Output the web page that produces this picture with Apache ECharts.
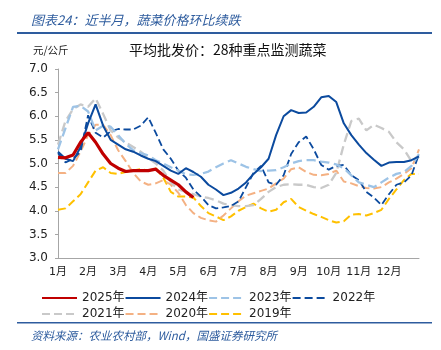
<!DOCTYPE html>
<html><head><meta charset="utf-8">
<script src="https://cdn.jsdelivr.net/npm/echarts@6/dist/echarts.min.js"></script>
<style>html,body{margin:0;padding:0;background:#fff}#c{width:441px;height:350px}</style>
</head><body><div id="c"></div>
<script>
// quarter-month sampling (index 0..48), 4 points per month
var months = ['1月','2月','3月','4月','5月','6月','7月','8月','9月','10月','11月','12月'];
var yTicks = [3.0,3.5,4.0,4.5,5.0,5.5,6.0,6.5,7.0];
var names = ['2025年','2024年','2023年','2022年','2021年','2020年','2019年'];

var s2025 = [5.13,5.12,5.18,5.45,5.65,5.45,5.2,5.0,4.9,4.83,4.85,4.85,4.85,4.88,4.75,4.65,4.55,4.4,4.28];
var s2024 = [5.25,5.1,5.05,5.35,5.85,6.25,5.8,5.5,5.4,5.3,5.25,5.17,5.1,5.05,4.95,4.85,4.78,4.9,4.82,4.72,4.55,4.45,4.33,4.38,4.47,4.6,4.78,4.92,5.1,5.6,6.0,6.13,6.07,6.08,6.2,6.4,6.43,6.3,5.85,5.6,5.4,5.22,5.08,4.95,5.02,5.03,5.03,5.07,5.15];
var s2023 = [5.3,5.75,6.2,6.22,6.1,5.7,5.8,5.78,5.6,5.42,5.28,5.22,5.17,5.07,5.0,4.92,4.85,4.77,4.76,4.78,4.83,4.92,5.0,5.07,5.0,4.93,4.88,4.84,4.85,4.86,4.92,5.0,5.05,5.07,5.07,5.04,5.02,4.98,4.9,4.75,4.6,4.55,4.5,4.6,4.7,4.78,4.82,4.95,5.2];
var s2022 = [5.22,5.02,5.1,5.25,6.02,5.65,5.55,5.68,5.73,5.72,5.72,5.8,5.98,5.65,5.3,5.1,4.85,4.7,4.45,4.3,4.12,4.05,4.07,4.1,4.2,4.5,4.8,4.95,4.6,4.55,4.75,5.2,5.45,5.57,5.3,4.97,4.87,4.95,4.97,4.75,4.65,4.4,4.28,4.12,4.35,4.55,4.6,4.75,5.2];
var s2021 = [5.4,5.9,6.15,6.25,6.2,6.38,6.05,5.7,5.55,5.45,5.35,5.25,5.12,5.0,4.85,4.6,4.45,4.4,4.35,4.3,4.27,4.22,4.15,4.12,4.1,4.1,4.12,4.25,4.4,4.5,4.55,4.56,4.55,4.55,4.5,4.48,4.55,4.8,5.4,5.9,5.95,5.7,5.82,5.75,5.67,5.45,5.3,5.05,5.15];
var s2020 = [4.8,4.8,4.95,5.25,5.6,5.82,5.82,5.6,5.28,5.05,4.8,4.62,4.55,4.58,4.65,4.55,4.38,4.12,3.95,3.85,3.8,3.77,3.9,4.05,4.2,4.32,4.37,4.42,4.47,4.58,4.68,4.88,4.92,4.82,4.76,4.75,4.78,4.85,4.62,4.58,4.52,4.48,4.47,4.5,4.6,4.68,4.78,4.9,5.3];
var s2019 = [4.02,4.05,4.2,4.35,4.6,4.85,4.92,4.8,4.78,4.82,4.85,4.88,4.85,4.9,4.7,4.4,4.3,4.3,4.28,4.1,3.95,3.88,3.8,3.88,4.0,4.08,4.15,4.05,3.98,4.02,4.18,4.25,4.08,4.0,3.93,3.87,3.8,3.75,3.78,3.92,3.93,3.9,3.95,4.02,4.25,4.45,4.65,4.78,4.78];

var allData = [s2025,s2024,s2023,s2022,s2021,s2020,s2019];
var colors = ['#c00000','#0b4a9e','#9dc3e6','#0b4a9e','#c9c9c9','#f4b183','#ffc000'];
var widths = [3.2,2,2.3,1.8,2.3,2,2];
var dashed = [false,false,true,true,true,true,true];

function toPairs(a){ return a.map(function(v,i){ return [i,v]; }); }

var series = [];
for (var k = allData.length-1; k >= 0; k--) {
  series.push({
    name: names[k], type: 'line', data: toPairs(allData[k]),
    showSymbol: false, symbol: 'none', smooth: false, z: 10-k,
    lineStyle: {color: colors[k], width: widths[k], type: dashed[k] ? 'dashed' : 'solid'},
    itemStyle: {color: colors[k]}
  });
}

var font = 'DejaVu Sans, Noto Sans CJK SC, sans-serif';
var cjk = 'Noto Sans CJK SC, sans-serif';
var chart = echarts.init(document.getElementById('c'), null, {renderer:'canvas'});
function legendCfg(list, top){
  return {
    data: list, top: top, left: 36, itemWidth: 35, itemHeight: 12, itemGap: 0,
    itemStyle: {opacity: 0},
    textStyle: {fontFamily: font, fontSize: 12, color: '#222', width: 59, padding: [0,0,0,0]},
    selectedMode: false
  };
}
chart.setOption({
  animation: false,
  title: [
    {text: '图表24：近半月，蔬菜价格环比续跌', left: 26, top: 9, textStyle: {fontFamily: cjk, fontSize: 13, fontStyle: 'italic', fontWeight: 'normal', color: '#2e5c9e'}},
    {text: '元/公斤', left: 28, top: 40, textStyle: {fontFamily: cjk, fontSize: 10.5, fontWeight: 'normal', color: '#222'}},
    {text: '平均批发价：28种重点监测蔬菜', left: 124, top: 38, textStyle: {fontFamily: cjk, fontSize: 14, fontWeight: 'normal', color: '#111'}},
    {text: '资料来源：农业农村部，Wind，国盛证券研究所', left: 26, top: 325, textStyle: {fontFamily: cjk, fontSize: 11.5, fontStyle: 'italic', fontWeight: 'normal', color: '#2e5c9e'}}
  ],
  graphic: [
    {type: 'rect', shape: {x: 17, y: 32, width: 415, height: 2}, style: {fill: '#2e5c9e'}},
    {type: 'rect', shape: {x: 17, y: 322, width: 415, height: 1.5}, style: {fill: '#2e5c9e'}}
  ],
  legend: [
    legendCfg(['2025年','2024年','2023年','2022年'], 287),
    legendCfg(['2021年','2020年','2019年'], 303)
  ],
  grid: {left: 58, right: 22, top: 69, bottom: 92, containLabel: false},
  xAxis: {
    type: 'value', min: 0, max: 48, interval: 4,
    axisLine: {show: true, lineStyle: {color: '#a6a6a6', width: 1}},
    axisTick: {show: false}, splitLine: {show: false},
    axisLabel: {fontFamily: font, fontSize: 11, color: '#222', margin: 9,
      formatter: function(v){ return v < 48 ? months[v/4] : ''; }}
  },
  yAxis: {
    type: 'value', min: yTicks[0], max: yTicks[yTicks.length-1], interval: 0.5,
    axisLine: {show: true, lineStyle: {color: '#a6a6a6', width: 1}},
    axisTick: {show: true, length: 3, lineStyle: {color: '#a6a6a6'}},
    splitLine: {show: false},
    axisLabel: {fontFamily: font, fontSize: 12, color: '#222', margin: 10,
      formatter: function(v){ return v.toFixed(1); }}
  },
  series: series
});
</script></body></html>
